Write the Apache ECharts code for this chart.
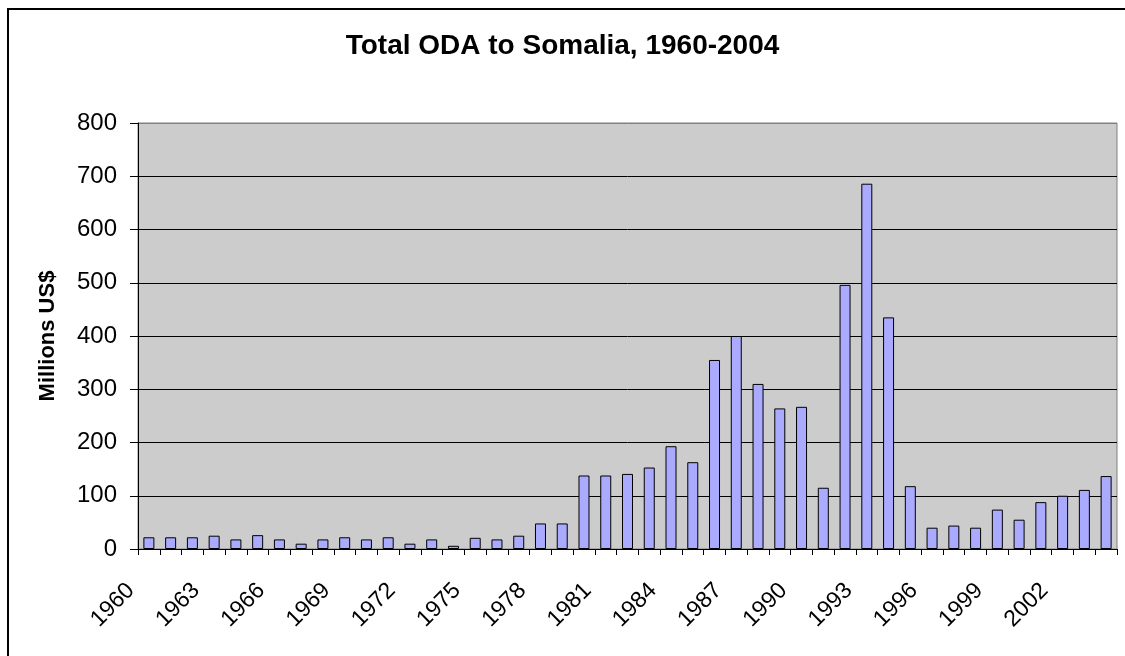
<!DOCTYPE html>
<html>
<head>
<meta charset="utf-8">
<title>Total ODA to Somalia, 1960-2004</title>
<script src="https://cdn.jsdelivr.net/npm/echarts@6/dist/echarts.min.js"></script>
<style>
  html, body { margin: 0; padding: 0; background: #fff; }
  #container { width: 1125px; height: 656px; }
</style>
</head>
<body>
<div id="container"></div>
<script>
// years on the x axis
var years = [];
for (var y = 1960; y <= 2004; y++) {
    years.push(String(y));
}
// total ODA, millions US$
var odaValues = [
    22, 22, 22, 25, 18, 26, 18, 10, 18, 22,     // 1960-1969
    18, 22, 10, 18, 6, 21, 18, 25, 48, 48,      // 1970-1979
    138, 138, 141, 153, 193, 163, 355, 400, 310, 264, // 1980-1989
    267, 115, 496, 686, 435, 118, 40, 44, 40, 74,     // 1990-1999
    55, 88, 100, 111, 137                        // 2000-2004
];
var yTicks = [0, 100, 200, 300, 400, 500, 600, 700, 800];

var font = "'Liberation Sans', Arial, sans-serif";

var option = {
    animation: false,
    backgroundColor: '#ffffff',
    title: {
        text: 'Total ODA to Somalia, 1960-2004',
        left: 'center',
        top: 27,
        textStyle: { fontFamily: font, fontSize: 28, fontWeight: 'bold', color: '#000' }
    },
    graphic: [{
        type: 'rect',
        shape: { x: 8, y: 9, width: 1200, height: 700 },
        style: { fill: null, stroke: '#000', lineWidth: 2 },
        silent: true
    }],
    grid: {
        left: 138,
        right: 8,
        top: 123,
        bottom: 107,
        show: true,
        backgroundColor: '#cccccc',
        borderColor: '#808080',
        borderWidth: 1
    },
    xAxis: {
        type: 'category',
        data: years,
        boundaryGap: true,
        axisLine: { lineStyle: { color: '#000', width: 1 } },
        axisTick: { show: true, interval: 0, length: 6, lineStyle: { color: '#000' } },
        axisLabel: {
            interval: 2,
            rotate: 45,
            margin: 56,
            fontFamily: font,
            fontSize: 23,
            color: '#000',
            verticalAlign: 'bottom',
            padding: [0, 0, 14, 0],
            hideOverlap: false
        }
    },
    yAxis: {
        type: 'value',
        min: yTicks[0],
        max: yTicks[yTicks.length - 1],
        interval: 100,
        name: 'Millions US$',
        nameLocation: 'middle',
        nameGap: 79,
        nameTextStyle: { fontFamily: font, fontSize: 22, fontWeight: 'bold', color: '#000' },
        axisLine: { show: true, lineStyle: { color: '#000', width: 1 } },
        axisTick: { show: true, length: 8, lineStyle: { color: '#000' } },
        axisLabel: { margin: 21, fontFamily: font, fontSize: 24, color: '#000' },
        splitLine: {
            show: true,
            lineStyle: { color: ['#000', '#000', '#000', '#000', '#000', '#000', '#000', '#000', '#808080'], width: 1 }
        }
    },
    series: [{
        name: 'ODA',
        type: 'bar',
        data: odaValues,
        barWidth: 11,
        itemStyle: { color: '#aaaaff', borderColor: '#000', borderWidth: 1 }
    }]
};

echarts.init(document.getElementById('container')).setOption(option);
</script>
</body>
</html>
